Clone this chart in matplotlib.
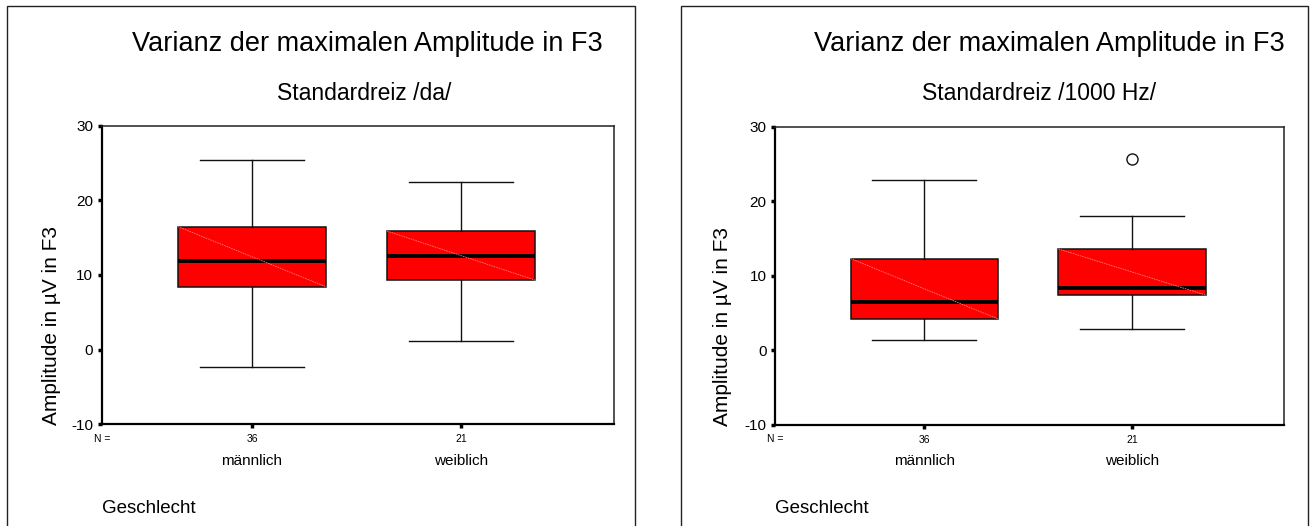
import matplotlib
matplotlib.use("Agg")
import matplotlib.pyplot as plt
from matplotlib.patches import Rectangle
from matplotlib.transforms import blended_transform_factory

# ---------------- data ----------------
categories = ["männlich", "weiblich"]
n_counts = ["36", "21"]

# panel 1: Standardreiz /da/
da_whislo = [-2.4, 1.1]
da_q1 = [8.4, 9.3]
da_med = [11.9, 12.6]
da_q3 = [16.5, 15.9]
da_whishi = [25.5, 22.5]
da_fliers = [[], []]

# panel 2: Standardreiz /1000 Hz/
hz_whislo = [1.4, 2.9]
hz_q1 = [4.2, 7.4]
hz_med = [6.5, 8.4]
hz_q3 = [12.3, 13.6]
hz_whishi = [22.8, 18.0]
hz_fliers = [[], [25.7]]

title = "Varianz der maximalen Amplitude in F3"
subtitles = ["Standardreiz /da/", "Standardreiz /1000 Hz/"]
ylabel = "Amplitude in µV in F3"
xlabel = "Geschlecht"
yticks = [-10, 0, 10, 20, 30]

panels = [
    (da_whislo, da_q1, da_med, da_q3, da_whishi, da_fliers),
    (hz_whislo, hz_q1, hz_med, hz_q3, hz_whishi, hz_fliers),
]

# ---------------- layout (pixels) ----------------
W, H = 1311, 526
FONT = "Liberation Sans"
plt.rcParams["font.family"] = [FONT, "DejaVu Sans"]

fig = plt.figure(figsize=(W / 100, H / 100), dpi=100)
fig.patch.set_facecolor("white")


def fx(x):
    return x / W


def fy(y):
    return 1 - y / H


axes_px = [(101.7, 126.0, 614.0, 424.0), (775.0, 126.5, 1284.0, 425.0)]
frame_px = [(7.0, 6.0, 635.0, 560.0), (680.7, 6.0, 1308.3, 560.0)]
title_right = [603, 1285]
sub_center = [364, 1039]
ylab_x = [52, 722]

positions = [1, 2]
box_w = 0.71

for i, (wlo, q1, med, q3, whi, fl) in enumerate(panels):
    fl0, ft0, fr0, fb0 = frame_px[i]
    fig.patches.append(Rectangle((fx(fl0), fy(fb0)), fx(fr0) - fx(fl0), fy(ft0) - fy(fb0),
                                 transform=fig.transFigure, fill=False,
                                 edgecolor="#222222", linewidth=1.0, zorder=0))

    l, t, r, b = axes_px[i]
    ax = fig.add_axes([fx(l), fy(b), fx(r) - fx(l), fy(t) - fy(b)])

    stats = []
    for k in range(len(categories)):
        stats.append(dict(med=med[k], q1=q1[k], q3=q3[k], whislo=wlo[k],
                          whishi=whi[k], fliers=fl[k]))
    ax.bxp(stats, positions=positions, widths=box_w, patch_artist=True,
           showfliers=True,
           boxprops=dict(facecolor="#ff0000", edgecolor="#111111", linewidth=1.1),
           medianprops=dict(color="black", linewidth=2.8, solid_capstyle="butt"),
           whiskerprops=dict(color="#111111", linewidth=1.0),
           capprops=dict(color="#111111", linewidth=1.0),
           capwidths=0.5,
           flierprops=dict(marker="o", markerfacecolor="none",
                           markeredgecolor="#111111", markersize=8,
                           markeredgewidth=1.0, linestyle="none"))
    # faint diagonal inside each box (as in the original rendering)
    for k, p in enumerate(positions):
        ax.plot([p - box_w / 2, p + box_w / 2], [q3[k], q1[k]],
                color="#ff7a7a", linewidth=0.6, linestyle=(0, (2, 1)), zorder=3)

    ax.set_xlim(0.281, 2.731)
    ax.set_ylim(-10, 30)
    ax.set_yticks(yticks)
    ax.set_yticklabels([str(v) for v in yticks], fontsize=11, family=FONT)
    ax.set_xticks(positions)
    ax.set_xticklabels(n_counts, fontsize=7.5, family=FONT)
    ax.tick_params(axis="y", direction="out", length=3, width=2.5, pad=3, colors="black")
    ax.tick_params(axis="x", direction="out", length=3, width=2.5, pad=4, colors="black")
    for s in ["top", "right"]:
        ax.spines[s].set_linewidth(1.1)
        ax.spines[s].set_color("#222222")
    for s in ["left", "bottom"]:
        ax.spines[s].set_linewidth(1.6)
        ax.spines[s].set_color("black")

    # "N =" label
    fig.text(fx(l - 8), fy(442), "N =", fontsize=7.5, family=FONT, ha="left", va="baseline")

    # category labels
    trans = blended_transform_factory(ax.transData, fig.transFigure)
    for k, p in enumerate(positions):
        ax.text(p, fy(465), categories[k], transform=trans, fontsize=11,
                family=FONT, ha="center", va="baseline")

    # axis title "Geschlecht"
    fig.text(fx(l), fy(513), xlabel, fontsize=13.5, family=FONT, ha="left", va="baseline")

    # y label
    fig.text(fx(ylab_x[i]), fy(b + 1), ylabel, rotation=90, fontsize=15,
             family=FONT, ha="center", va="bottom")

    # titles
    fig.text(fx(title_right[i]), fy(51), title, fontsize=19.5, family=FONT,
             ha="right", va="baseline")
    fig.text(fx(sub_center[i]), fy(100), subtitles[i], fontsize=16.5, family=FONT,
             ha="center", va="baseline")

fig.savefig("out.png", dpi=100, facecolor="white")
